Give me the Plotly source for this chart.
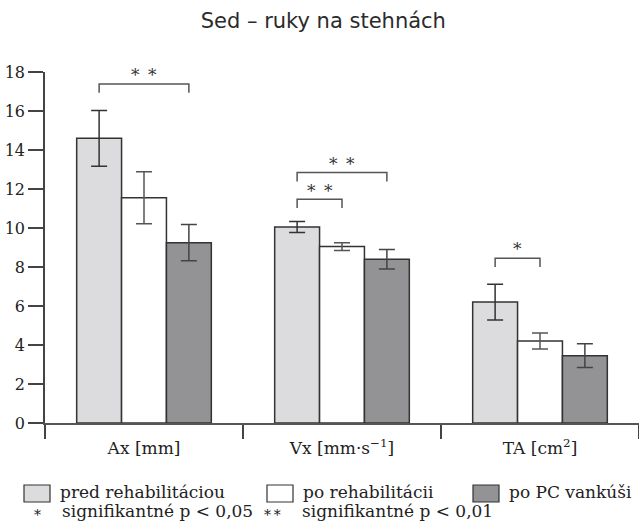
import plotly.graph_objects as go

# Measured quantities (mean and error-bar half-width) for the three conditions
categories = ["Ax [mm]", "Vx [mm·s<sup>−1</sup>]", "TA [cm<sup>2</sup>]"]
series_names = ["pred rehabilitáciou", "po rehabilitácii", "po PC vankúši"]
pred_rehab = [14.6, 10.05, 6.2]
po_rehab = [11.55, 9.05, 4.2]
po_pc = [9.25, 8.4, 3.45]
err_pred_rehab = [1.43, 0.28, 0.92]
err_po_rehab = [1.33, 0.2, 0.41]
err_po_pc = [0.93, 0.5, 0.61]

# Significance brackets: (category index, first series, second series, label)
sig_pairs = [(0, 0, 2, "*\u2002*"), (1, 0, 2, "*\u2002*"), (1, 0, 1, "*\u2002*"), (2, 0, 1, "*")]
sig_levels = [17.38, 12.84, 11.47, 8.45]

y_ticks = [0, 2, 4, 6, 8, 10, 12, 14, 16, 18]

fills = ["#dcdcde", "#ffffff", "#939396"]
err_colors = ["#333333", "#555555", "#444444"]
serif = "DejaVu Serif"
W, H = 639, 524
L, R, T, B = 45, 0, 72, 101
BARGAP = 0.32

fig = go.Figure()
values = [pred_rehab, po_rehab, po_pc]
errors = [err_pred_rehab, err_po_rehab, err_po_pc]
for name, vals, errs, fc, ec in zip(series_names, values, errors, fills, err_colors):
    fig.add_trace(go.Bar(
        x=categories, y=vals, name=name,
        marker=dict(color=fc, line=dict(color="#333333", width=1.5)),
        error_y=dict(type="data", array=errs, visible=True,
                     color=ec, thickness=1.5, width=8),
        showlegend=False,
    ))

# Bracket geometry follows the grouped-bar offsets
bar_w = (1 - BARGAP) / 3
offsets = [-bar_w, 0.0, bar_w]
drop = 0.45
for (ci, s1, s2, label), lvl in zip(sig_pairs, sig_levels):
    x1 = ci + offsets[s1]
    x2 = ci + offsets[s2]
    fig.add_shape(type="path", xref="x", yref="y",
                  path=f"M {x1},{lvl - drop} L {x1},{lvl} L {x2},{lvl} L {x2},{lvl - drop}",
                  line=dict(color="#555555", width=1.5))
    fig.add_annotation(x=(x1 + x2) / 2, y=lvl + 0.45, xref="x", yref="y",
                       text=label, showarrow=False,
                       font=dict(family=serif, size=17, color="#333333"))

# Legend drawn below the axis (pixel positions converted to paper units)
pw, ph = W - L - R, H - T - B


def px(x):
    return (x - L) / pw


def py(y):
    return (H - B - y) / ph


legend_items = [(24, series_names[0], fills[0]),
                (267, series_names[1], fills[1]),
                (473, series_names[2], fills[2])]
for x0, txt, fc in legend_items:
    fig.add_shape(type="rect", xref="paper", yref="paper",
                  x0=px(x0), x1=px(x0 + 26), y0=py(485), y1=py(502),
                  fillcolor=fc, line=dict(color="#333333", width=1.2))
    fig.add_annotation(x=px(x0 + 34), y=py(492), xref="paper", yref="paper",
                       text=txt, showarrow=False, xanchor="left", yanchor="middle",
                       font=dict(family=serif, size=17, color="#222222"))

note_items = [(37, "*", 60, "signifikantné p < 0,05"),
              (272, "*\u2009*", 300, "signifikantné p < 0,01")]
for sx, star, tx, txt in note_items:
    fig.add_annotation(x=px(sx), y=py(515), xref="paper", yref="paper",
                       text=star, showarrow=False, xanchor="center", yanchor="middle",
                       font=dict(family=serif, size=14, color="#222222"))
    fig.add_annotation(x=px(tx), y=py(511), xref="paper", yref="paper",
                       text=txt, showarrow=False, xanchor="left", yanchor="middle",
                       font=dict(family=serif, size=17, color="#222222"))

fig.update_layout(
    width=W, height=H,
    margin=dict(l=L, r=R, t=T, b=B, pad=0),
    paper_bgcolor="white", plot_bgcolor="white",
    barmode="group", bargap=BARGAP, bargroupgap=0,
    title=dict(text="Sed – ruky na stehnách", xref="container", yref="container",
               x=0.506, xanchor="center", y=1 - 21 / H, yanchor="middle",
               font=dict(family="DejaVu Sans", size=21, color="#2b2b2b")),
    xaxis=dict(type="category", tickson="boundaries", ticks="outside", ticklen=14,
               tickwidth=1.5, tickcolor="#444444", showline=True, linecolor="#555555",
               linewidth=1.5, showgrid=False, zeroline=False, ticklabelstandoff=9,
               tickfont=dict(family=serif, size=17, color="#222222")),
    yaxis=dict(range=[0, 18], tickvals=y_ticks, ticks="outside", ticklen=15,
               tickwidth=1.5, tickcolor="#444444", showline=True, linecolor="#444444",
               linewidth=1.5, showgrid=False, zeroline=False,
               tickfont=dict(family=serif, size=16, color="#222222")),
    font=dict(family=serif),
)
fig.update_traces(cliponaxis=False)

fig.write_html("out.html")
